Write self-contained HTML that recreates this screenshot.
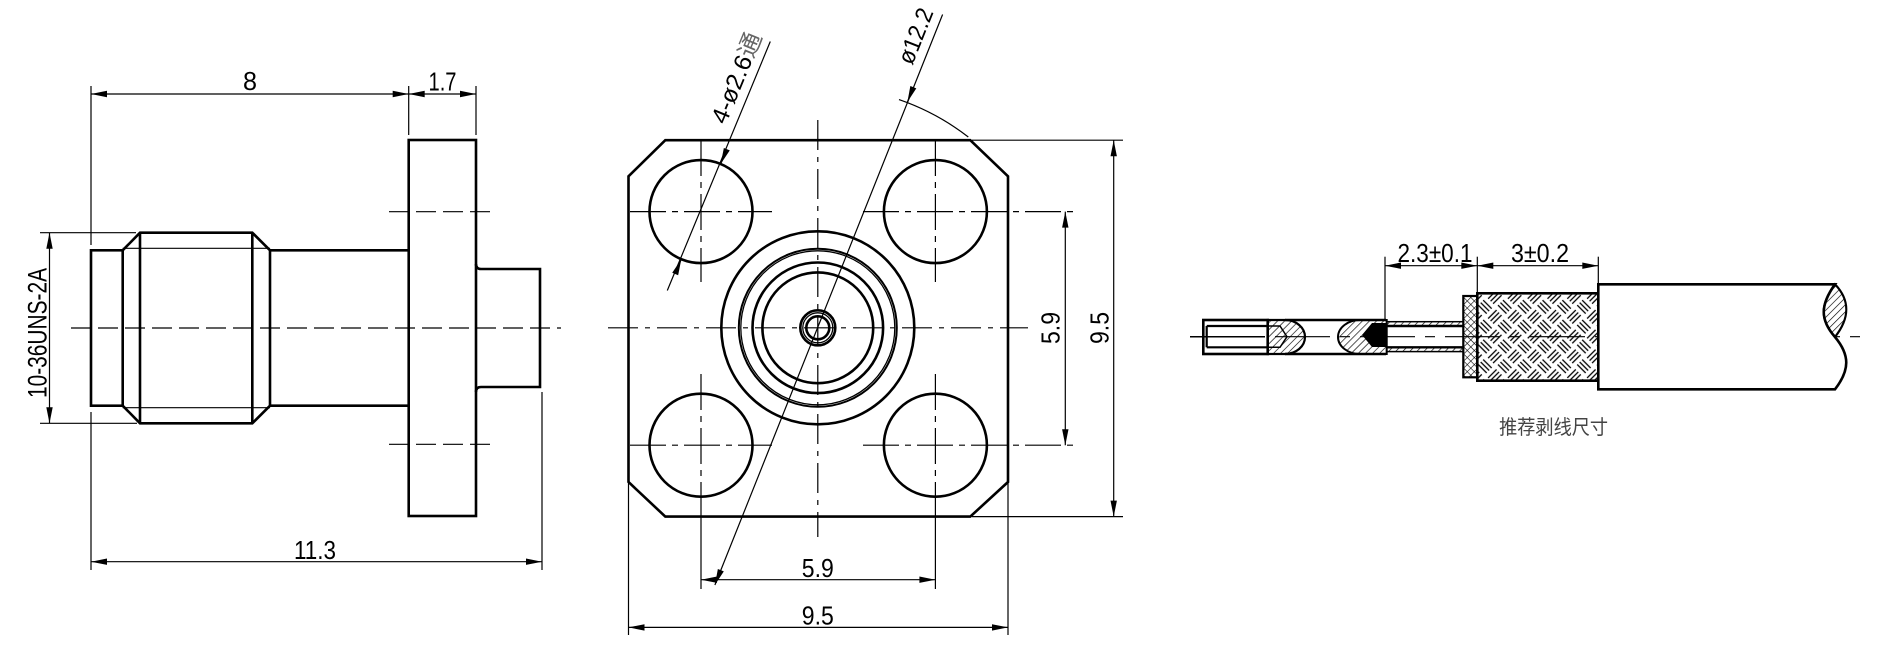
<!DOCTYPE html>
<html><head><meta charset="utf-8"><style>
html,body{margin:0;padding:0;background:#fff;}
svg{display:block}
text{font-family:"Liberation Sans","Noto Sans CJK SC",sans-serif;fill:#000}
</style></head><body>
<svg width="1879" height="651" viewBox="0 0 1879 651" xmlns="http://www.w3.org/2000/svg">
<defs>
<marker id="ar" markerUnits="userSpaceOnUse" markerWidth="20" markerHeight="10" refX="0" refY="0" orient="auto-start-reverse" overflow="visible">
<path d="M0,0 L-16,-3.2 L-16,3.2 z" fill="#000"/>
</marker>
<pattern id="hatch" width="5" height="5" patternUnits="userSpaceOnUse" patternTransform="rotate(45)">
<line x1="0" y1="0" x2="0" y2="5" stroke="#000" stroke-width="1.3"/>
</pattern>
<pattern id="xh" width="5" height="5" patternUnits="userSpaceOnUse" patternTransform="rotate(45)">
<line x1="0" y1="0" x2="0" y2="5" stroke="#000" stroke-width="1.2"/>
<line x1="0" y1="0" x2="5" y2="0" stroke="#000" stroke-width="1.2"/>
</pattern>
<pattern id="weave" width="28" height="28" patternUnits="userSpaceOnUse" patternTransform="rotate(45)">
<g stroke="#000" stroke-width="1.3">
<line x1="1" y1="3.5" x2="13" y2="3.5"/><line x1="1" y1="7" x2="13" y2="7"/><line x1="1" y1="10.5" x2="13" y2="10.5"/>
<line x1="17.5" y1="1" x2="17.5" y2="13"/><line x1="21" y1="1" x2="21" y2="13"/><line x1="24.5" y1="1" x2="24.5" y2="13"/>
<line x1="3.5" y1="15" x2="3.5" y2="27"/><line x1="7" y1="15" x2="7" y2="27"/><line x1="10.5" y1="15" x2="10.5" y2="27"/>
<line x1="15" y1="17.5" x2="27" y2="17.5"/><line x1="15" y1="21" x2="27" y2="21"/><line x1="15" y1="24.5" x2="27" y2="24.5"/>
</g>
</pattern>
</defs>

<!-- ============ LEFT VIEW ============ -->
<g fill="none" stroke="#000" stroke-width="2.6">
<rect x="91" y="250.3" width="31.7" height="155.4"/>
<path d="M122.7,250.3 L140,232.7 L252.3,232.7 L270,250.3 L270,405.7 L252.3,423.3 L140,423.3 L122.7,405.7"/>
<line x1="140" y1="232.7" x2="140" y2="423.3"/>
<line x1="252.3" y1="232.7" x2="252.3" y2="423.3"/>
<path d="M270,250.3 L408.7,250.3 M270,405.7 L408.7,405.7"/>
<rect x="408.7" y="140" width="67.3" height="376"/>
<path d="M476,264 Q476,269 481,269 L540,269 L540,387 L481,387 Q476,387 476,392"/>
</g>
<g stroke="#000" stroke-width="1.2" fill="none">
<line x1="122.7" y1="248.3" x2="270" y2="248.3"/>
<line x1="122.7" y1="407.7" x2="270" y2="407.7"/>
<line x1="91" y1="86" x2="91" y2="245"/>
<line x1="91" y1="412" x2="91" y2="570"/>
<line x1="408.7" y1="86" x2="408.7" y2="135"/>
<line x1="476" y1="86" x2="476" y2="135"/>
<line x1="542" y1="392" x2="542" y2="570"/>
<line x1="40" y1="232.7" x2="136" y2="232.7"/>
<line x1="40" y1="423.3" x2="137" y2="423.3"/>
<line x1="91" y1="94" x2="408.7" y2="94" marker-start="url(#ar)" marker-end="url(#ar)"/>
<line x1="408.7" y1="94" x2="476" y2="94" marker-start="url(#ar)" marker-end="url(#ar)"/>
<line x1="91" y1="561.7" x2="542" y2="561.7" marker-start="url(#ar)" marker-end="url(#ar)"/>
<line x1="49.5" y1="232.7" x2="49.5" y2="423.3" marker-start="url(#ar)" marker-end="url(#ar)"/>
<line x1="71" y1="328" x2="561" y2="328" stroke-dasharray="20 7"/>
<line x1="389" y1="211.7" x2="496" y2="211.7" stroke-dasharray="20 7"/>
<line x1="389" y1="444.3" x2="496" y2="444.3" stroke-dasharray="20 7"/>
</g>
<text x="250" y="90" font-size="26" text-anchor="middle" textLength="14" lengthAdjust="spacingAndGlyphs">8</text>
<text x="442.5" y="90.5" font-size="26" text-anchor="middle" textLength="28" lengthAdjust="spacingAndGlyphs">1.7</text>
<text x="315" y="559" font-size="26" text-anchor="middle" textLength="42" lengthAdjust="spacingAndGlyphs">11.3</text>
<text transform="translate(46.5,333) rotate(-90)" font-size="27" text-anchor="middle" textLength="130" lengthAdjust="spacingAndGlyphs">10-36UNS-2A</text>

<!-- ============ FRONT VIEW ============ -->
<g fill="none" stroke="#000" stroke-width="2.6">
<path d="M665.3,140.2 L970.3,140.2 L1008,176.3 L1008,482 L970.3,516.6 L665.3,516.6 L628.5,482 L628.5,176.3 Z"/>
<circle cx="701" cy="211.6" r="51.5"/>
<circle cx="935.4" cy="211.6" r="51.5"/>
<circle cx="701" cy="445.2" r="51.5"/>
<circle cx="935.4" cy="445.2" r="51.5"/>
<circle cx="817.8" cy="327.8" r="96.5"/>
<circle cx="817.8" cy="327.8" r="79" stroke-width="2"/>
<circle cx="817.8" cy="327.8" r="77" stroke-width="1.3"/>
<circle cx="817.8" cy="327.8" r="65.3"/>
<circle cx="817.8" cy="327.8" r="55.4"/>
<circle cx="817.8" cy="327.8" r="17.5"/>
<circle cx="817.8" cy="327.8" r="15" stroke-width="1.3"/>
<circle cx="817.8" cy="327.8" r="11.5"/>
</g>
<g stroke="#000" stroke-width="1.2" fill="none">
<line x1="817.8" y1="120" x2="817.8" y2="537" stroke-dasharray="30 7 5 7"/>
<line x1="608" y1="327.8" x2="1028" y2="327.8" stroke-dasharray="30 7 5 7"/>
<line x1="630" y1="211.6" x2="772" y2="211.6" stroke-dasharray="36 6 6 6"/>
<line x1="863" y1="211.6" x2="1075" y2="211.6" stroke-dasharray="36 6 6 6"/>
<line x1="630" y1="445.2" x2="772" y2="445.2" stroke-dasharray="36 6 6 6"/>
<line x1="863" y1="445.2" x2="1075" y2="445.2" stroke-dasharray="36 6 6 6"/>
<line x1="701" y1="140" x2="701" y2="282" stroke-dasharray="36 6 6 6"/>
<line x1="935.4" y1="140" x2="935.4" y2="282" stroke-dasharray="36 6 6 6"/>
<line x1="701" y1="374" x2="701" y2="516" stroke-dasharray="36 6 6 6"/>
<line x1="935.4" y1="374" x2="935.4" y2="516" stroke-dasharray="36 6 6 6"/>
<line x1="701" y1="516" x2="701" y2="589"/>
<line x1="935.4" y1="516" x2="935.4" y2="589"/>
<line x1="628.5" y1="483" x2="628.5" y2="635"/>
<line x1="1008" y1="483" x2="1008" y2="635"/>
<line x1="972" y1="140.2" x2="1123" y2="140.2"/>
<line x1="972" y1="516.6" x2="1123" y2="516.6"/>
<line x1="701" y1="579.7" x2="935.4" y2="579.7" marker-start="url(#ar)" marker-end="url(#ar)"/>
<line x1="628.5" y1="627.4" x2="1008" y2="627.4" marker-start="url(#ar)" marker-end="url(#ar)"/>
<line x1="1065.3" y1="211.6" x2="1065.3" y2="445.2" marker-start="url(#ar)" marker-end="url(#ar)"/>
<line x1="1113.7" y1="140.2" x2="1113.7" y2="516.6" marker-start="url(#ar)" marker-end="url(#ar)"/>
<line x1="770.3" y1="41.5" x2="667.3" y2="290.5"/>
<path d="M724.5,154.8 L720.7,164" marker-end="url(#ar)"/>
<path d="M677.5,268.4 L681.3,259.2" marker-end="url(#ar)"/>
<line x1="942.6" y1="14.5" x2="714.9" y2="585" marker-end="url(#ar)"/>
<path d="M911.1,92.7 L907.4,102" marker-end="url(#ar)"/>
<path d="M899,99.6 A242.5 242.5 0 0 1 968.3,137"/>
</g>
<text x="817.8" y="577" font-size="26" text-anchor="middle" textLength="32" lengthAdjust="spacingAndGlyphs">5.9</text>
<text x="817.8" y="624.5" font-size="26" text-anchor="middle" textLength="32" lengthAdjust="spacingAndGlyphs">9.5</text>
<text transform="translate(1059.4,328) rotate(-90)" font-size="26" text-anchor="middle" textLength="32" lengthAdjust="spacingAndGlyphs">5.9</text>
<text transform="translate(1108.5,328) rotate(-90)" font-size="26" text-anchor="middle" textLength="32" lengthAdjust="spacingAndGlyphs">9.5</text>
<text transform="translate(744,81) rotate(-67.5)" font-size="24" text-anchor="middle" textLength="96" lengthAdjust="spacingAndGlyphs">4-ø2.6<tspan fill="#666">通</tspan></text>
<text transform="translate(923,39) rotate(-68.2)" font-size="24" text-anchor="middle" textLength="58" lengthAdjust="spacingAndGlyphs">ø12.2</text>

<!-- ============ CABLE ============ -->
<g stroke="#000" fill="none">
<line x1="1190" y1="336.7" x2="1860" y2="336.7" stroke-width="1.2" stroke-dasharray="55 10 10 10"/>
<rect x="1477.3" y="293.3" width="121" height="87.4" fill="url(#weave)" stroke-width="2.6"/>
<rect x="1463.3" y="296" width="14" height="81.3" fill="url(#xh)" stroke-width="2.2"/>
<path d="M1598.3,284.3 L1835,284.3 C1820,305 1820,320 1835,337 C1850,355 1850,370 1835,389.3 L1598.3,389.3 Z" fill="#fff" stroke-width="2.6"/>
<path d="M1835,284.3 C1820,305 1820,320 1835,337 C1850,318 1850,300 1835,284.3 Z" fill="url(#hatch)" stroke-width="2.2"/>
<rect x="1203.3" y="320" width="64.4" height="34" stroke-width="2.6" fill="#fff"/>
<path d="M1206.7,326 L1267.7,326 M1206.7,347.3 L1267.7,347.3 M1206.7,326 L1206.7,347.3" stroke-width="2.2"/>
<line x1="1190" y1="336.7" x2="1265" y2="336.7" stroke-width="1.5"/>
<path d="M1267.7,320 L1285,320 A20 17 0 0 1 1285,354 L1267.7,354 Z" fill="url(#hatch)" stroke-width="2.2"/>
<path d="M1267.7,326 L1280,326 L1287,336.7 L1280,347.3 L1267.7,347.3" stroke-width="1.5"/>
<path d="M1285,320 L1386,320 M1285,354 L1386,354" stroke-width="2.6"/>
<path d="M1360,320 A22 17 0 0 0 1360,354 L1386.7,354 L1386.7,320 Z" fill="url(#hatch)" stroke-width="2"/>
<path d="M1372,323 L1386.7,323 L1386.7,347 L1372,347 L1362,335 Z" fill="#000" stroke="none"/>
<rect x="1386.7" y="321.7" width="76.6" height="4.3" fill="url(#hatch)" stroke-width="1.5"/>
<rect x="1386.7" y="347.3" width="76.6" height="4.3" fill="url(#hatch)" stroke-width="1.5"/>
<path d="M1386.7,326 L1463.3,326 M1386.7,347.3 L1463.3,347.3" stroke-width="2.4"/>
<g stroke-width="1.2">
<line x1="1385" y1="256.7" x2="1385" y2="320"/>
<line x1="1477.3" y1="256.7" x2="1477.3" y2="292"/>
<line x1="1598.3" y1="256.7" x2="1598.3" y2="283"/>
<line x1="1385" y1="265.7" x2="1477.3" y2="265.7" marker-start="url(#ar)" marker-end="url(#ar)"/>
<line x1="1477.3" y1="265.7" x2="1598.3" y2="265.7" marker-start="url(#ar)" marker-end="url(#ar)"/>
</g>
</g>
<text x="1435" y="262" font-size="26" text-anchor="middle" textLength="75" lengthAdjust="spacingAndGlyphs">2.3±0.1</text>
<text x="1540" y="262" font-size="26" text-anchor="middle" textLength="58" lengthAdjust="spacingAndGlyphs">3±0.2</text>
<text x="1553.6" y="434" font-size="20" text-anchor="middle" textLength="109" lengthAdjust="spacingAndGlyphs" style="fill:#444">推荐剥线尺寸</text>
</svg>
</body></html>
